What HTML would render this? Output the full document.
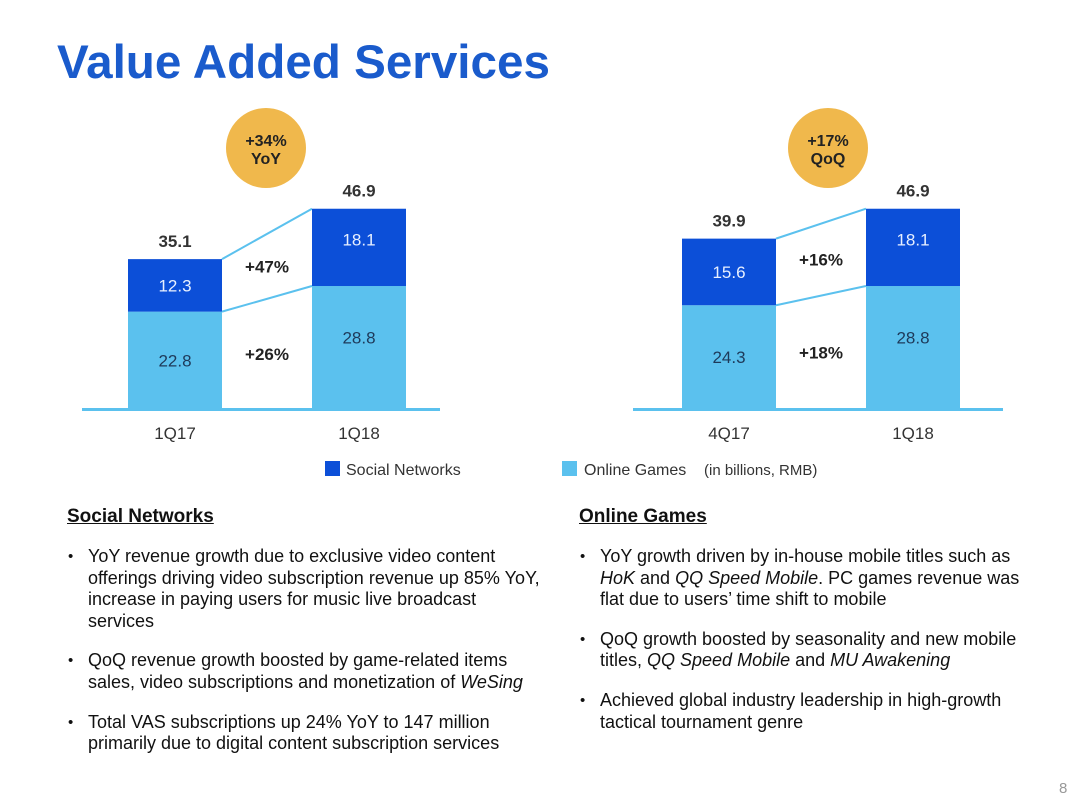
<!DOCTYPE html>
<html><head><meta charset="utf-8"><style>
body{margin:0;background:#fff;font-family:"Liberation Sans",Arial,sans-serif;}
#page{position:relative;width:1080px;height:810px;overflow:hidden;background:#fff;}
.t{position:absolute;color:#111;}
h1{position:absolute;left:57px;top:35px;margin:0;font-size:47.6px;font-weight:bold;color:#1a5bcc;}
.sec{position:absolute;font-size:19px;font-weight:bold;text-decoration:underline;color:#111;}
ul{position:absolute;margin:0;padding:0;list-style:none;font-size:18px;line-height:21.6px;color:#111;}
li{position:relative;padding-left:22px;margin-bottom:18px;}
li:before{content:"•";position:absolute;left:2px;font-size:15px;}
</style></head><body>
<div id="page">
<h1>Value Added Services</h1>
<svg id="charts" width="1080" height="500" style="position:absolute;left:0;top:0"></svg>
<div class="t" style="left:325px;top:461px;width:15px;height:15px;background:#0c4fd8"></div>
<div class="t" style="left:346px;top:462px;font-size:16px;color:#333">Social Networks</div>
<div class="t" style="left:562px;top:461px;width:15px;height:15px;background:#5bc1ee"></div>
<div class="t" style="left:584px;top:462px;font-size:16px;color:#333">Online Games</div>
<div class="t" style="left:704px;top:462px;font-size:15px;color:#333">(in billions, RMB)</div>
<div class="sec" style="left:67px;top:506px">Social Networks</div>
<div class="sec" style="left:579px;top:506px">Online Games</div>
<ul style="left:66px;top:546px;width:478px">
<li>YoY revenue growth due to exclusive video content offerings driving video subscription revenue up 85% YoY, increase in paying users for music live broadcast services</li>
<li>QoQ revenue growth boosted by game-related items sales, video subscriptions and monetization of <i>WeSing</i></li>
<li>Total VAS subscriptions up 24% YoY to 147 million primarily due to digital content subscription services</li>
</ul>
<ul style="left:578px;top:546px;width:470px">
<li>YoY growth driven by in-house mobile titles such as <i>HoK</i> and <i>QQ Speed Mobile</i>. PC games revenue was flat due to users’ time shift to mobile</li>
<li>QoQ growth boosted by seasonality and new mobile titles, <i>QQ Speed Mobile</i> and <i>MU Awakening</i></li>
<li>Achieved global industry leadership in high-growth tactical tournament genre</li>
</ul>
<div class="t" style="left:1059px;top:780px;font-size:15px;color:#999">8</div>
</div>
<script>
const leftCats=["1Q17","1Q18"];
const leftGames=[22.8,28.8];
const leftSocial=[12.3,18.1];
const leftTotals=["35.1","46.9"];
const leftGrowth=["+26%","+47%"];
const rightCats=["4Q17","1Q18"];
const rightGames=[24.3,28.8];
const rightSocial=[15.6,18.1];
const rightTotals=["39.9","46.9"];
const rightGrowth=["+18%","+16%"];
const badges=[["+34%","YoY"],["+17%","QoQ"]];
const NS="http://www.w3.org/2000/svg";
const svg=document.getElementById('charts');
const base=409, k=4.27;
const y=v=>base-v*k;
function el(t,a,txt){const e=document.createElementNS(NS,t);for(const n in a)e.setAttribute(n,a[n]);if(txt!=null)e.textContent=txt;svg.appendChild(e);return e;}
function chart(id,xs,bw,axis,cats,g,s,tot,gr,badge,cx){
  const top=g.map((v,i)=>v+s[i]);
  let l=el('line',{x1:xs[0]+bw,y1:y(top[0]),x2:xs[1],y2:y(top[1]),stroke:'#5bc1ee','stroke-width':2});
  
  l=el('line',{x1:xs[0]+bw,y1:y(g[0]),x2:xs[1],y2:y(g[1]),stroke:'#5bc1ee','stroke-width':2});
  
  for(let i=0;i<2;i++){
    let r=el('rect',{x:xs[i],y:y(g[i]),width:bw,height:g[i]*k,fill:'#5bc1ee'});
    
    r=el('rect',{x:xs[i],y:y(top[i]),width:bw,height:s[i]*k,fill:'#0c4fd8'});
    
    const mx=xs[i]+bw/2;
    let t=el('text',{x:mx,y:(y(g[i])+base)/2+(i?-4:6),'text-anchor':'middle','font-size':17,fill:'#1e3a5a'},g[i].toFixed(1));
    
    t=el('text',{x:mx,y:(y(top[i])+y(g[i]))/2+(i?-2:6),'text-anchor':'middle','font-size':17,fill:'#e8f0ff'},s[i].toFixed(1));
    
    t=el('text',{x:mx,y:y(top[i])-12,'text-anchor':'middle','font-size':17,'font-weight':'bold',fill:'#333'},tot[i]);
    
    t=el('text',{x:mx,y:439,'text-anchor':'middle','font-size':17,fill:'#333'},cats[i]);
    
  }
  const gx=(xs[0]+bw+xs[1])/2;
  let t=el('text',{x:gx,y:(y((g[0]+g[1])/2)+base)/2+6,'text-anchor':'middle','font-size':17,'font-weight':'bold',fill:'#222'},gr[0]);
  
  t=el('text',{x:gx,y:y((top[0]+top[1]+g[0]+g[1])/4)+6,'text-anchor':'middle','font-size':17,'font-weight':'bold',fill:'#222'},gr[1]);
  
  let a=el('rect',{x:axis[0],y:base-1,width:axis[1]-axis[0],height:3,fill:'#5bc1ee'});
  
  let c=el('circle',{cx:cx,cy:148,r:40,fill:'#f0b84c'});
  
  t=el('text',{x:cx,y:146,'text-anchor':'middle','font-size':16,'font-weight':'bold',fill:'#222'},badge[0]);
  
  t=el('text',{x:cx,y:164,'text-anchor':'middle','font-size':16,'font-weight':'bold',fill:'#222'},badge[1]);
  
}
chart('left',[128,312],94,[82,440],leftCats,leftGames,leftSocial,leftTotals,leftGrowth,badges[0],266);
chart('right',[682,866],94,[633,1003],rightCats,rightGames,rightSocial,rightTotals,rightGrowth,badges[1],828);
</script>
</body></html>
